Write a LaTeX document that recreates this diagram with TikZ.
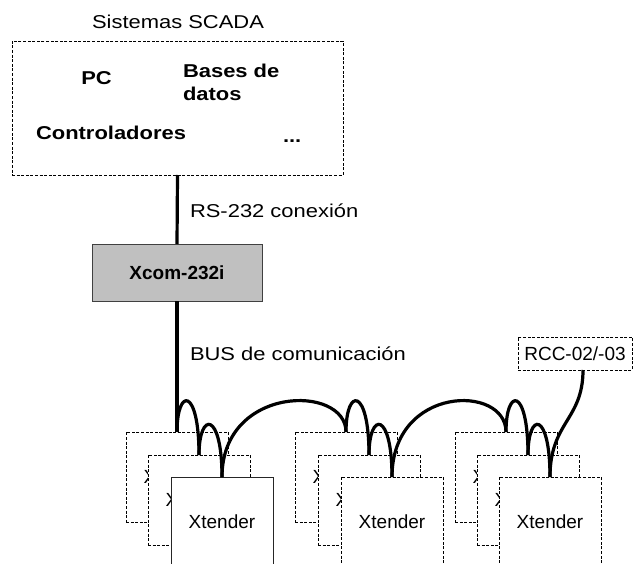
\documentclass[tikz,border=0pt]{standalone}
\usepackage{fontspec}
\setmainfont{Liberation Sans}
\newfontfamily\wideface{Liberation Sans}[FakeStretch=1.18]
\newcommand\plainlbl{\fontsize{19}{23}\selectfont}
\newcommand\widelbl{\wideface\fontsize{18.6}{23}\selectfont}
\definecolor{xcomgray}{HTML}{C0C0C0}
\begin{document}
\begin{tikzpicture}[x=1pt,y=-1pt,
  every node/.style={inner sep=0pt,outer sep=0pt},
  dashbox/.style={draw=black,line width=0.8pt,dash pattern=on 3pt off 1.6pt,fill=white},
  solidbox/.style={draw=black!85,line width=0.9pt,fill=white},
  unit/.style={minimum width=102pt,minimum height=90pt,anchor=north west,font=\plainlbl},
  cable/.style={line width=3.2pt,black},
  wlbl/.style={font=\widelbl},
  blbl/.style={font=\widelbl\bfseries},
]
\useasboundingbox (0,0) rectangle (634,564);
\clip (0,0) rectangle (634,564);

% SCADA block
\node[wlbl,anchor=base] (title) at (178,29) {Sistemas SCADA};
\node[dashbox,fill=none,anchor=north west,minimum width=331pt,minimum height=134pt] (scada) at (12,41) {};
\node[blbl,anchor=base] (pc) at (96.5,85) {PC};
\node[blbl,anchor=west,align=left] (bd) at (183,82) {Bases de\\datos};
\node[blbl,anchor=base west] (ctrl) at (36,140) {Controladores};
\node[blbl,anchor=base west] (etc) at (283,143) {...};

% Xcom
\node[anchor=north west,minimum width=170pt,minimum height=57pt,fill=xcomgray,draw=black!75,line width=0.9pt,font=\plainlbl\bfseries] (xcom) at (92,244) {Xcom-232i};
\node[wlbl,anchor=base west] (rs) at (190,218) {RS-232 conexión};
\node[wlbl,anchor=base west] (bus) at (190,360) {BUS de comunicación};

% Xtender units
\node[unit,dashbox] (b1) at (126,432) {Xtender};
\node[unit,dashbox] (m1) at (148,455) {Xtender};
\node[unit,solidbox] (f1) at (171,477) {Xtender};

\node[unit,dashbox] (b2) at (295,432) {Xtender};
\node[unit,dashbox] (m2) at (318,455) {Xtender};
\node[unit,dashbox] (f2) at (341,477) {Xtender};

\node[unit,dashbox] (b3) at (455,432) {Xtender};
\node[unit,dashbox] (m3) at (477,455) {Xtender};
\node[unit,dashbox] (f3) at (499,477) {Xtender};

% RCC
\node[dashbox,anchor=north west,minimum width=114pt,minimum height=33pt,font=\plainlbl] (rcc) at (518,337) {RCC-02/-03};

% cables
\draw[cable] (scada.south) -- (xcom.north);
\draw[cable] (xcom.south) -- (b1.north);
\draw[cable] (b1.north) .. controls +(0,-45) and +(0,-68) .. (m1.north);
\draw[cable] (m1.north) .. controls +(0,-44) and +(0,-66) .. (f1.north);
\draw[cable] (f1.north) .. controls +(0,-92) and +(0,-48) .. (b2.north);
\draw[cable] (b2.north) .. controls +(0,-45) and +(0,-68) .. (m2.north);
\draw[cable] (m2.north) .. controls +(0,-44) and +(0,-66) .. (f2.north);
\draw[cable] (f2.north) .. controls +(0,-92) and +(0,-48) .. (b3.north);
\draw[cable] (b3.north) .. controls +(0,-45) and +(0,-68) .. (m3.north);
\draw[cable] (m3.north) .. controls +(0,-44) and +(0,-66) .. (f3.north);
\draw[cable] (f3.north) .. controls +(0,-55) and +(0,50) .. ([xshift=8pt]rcc.south);
\end{tikzpicture}
\end{document}
